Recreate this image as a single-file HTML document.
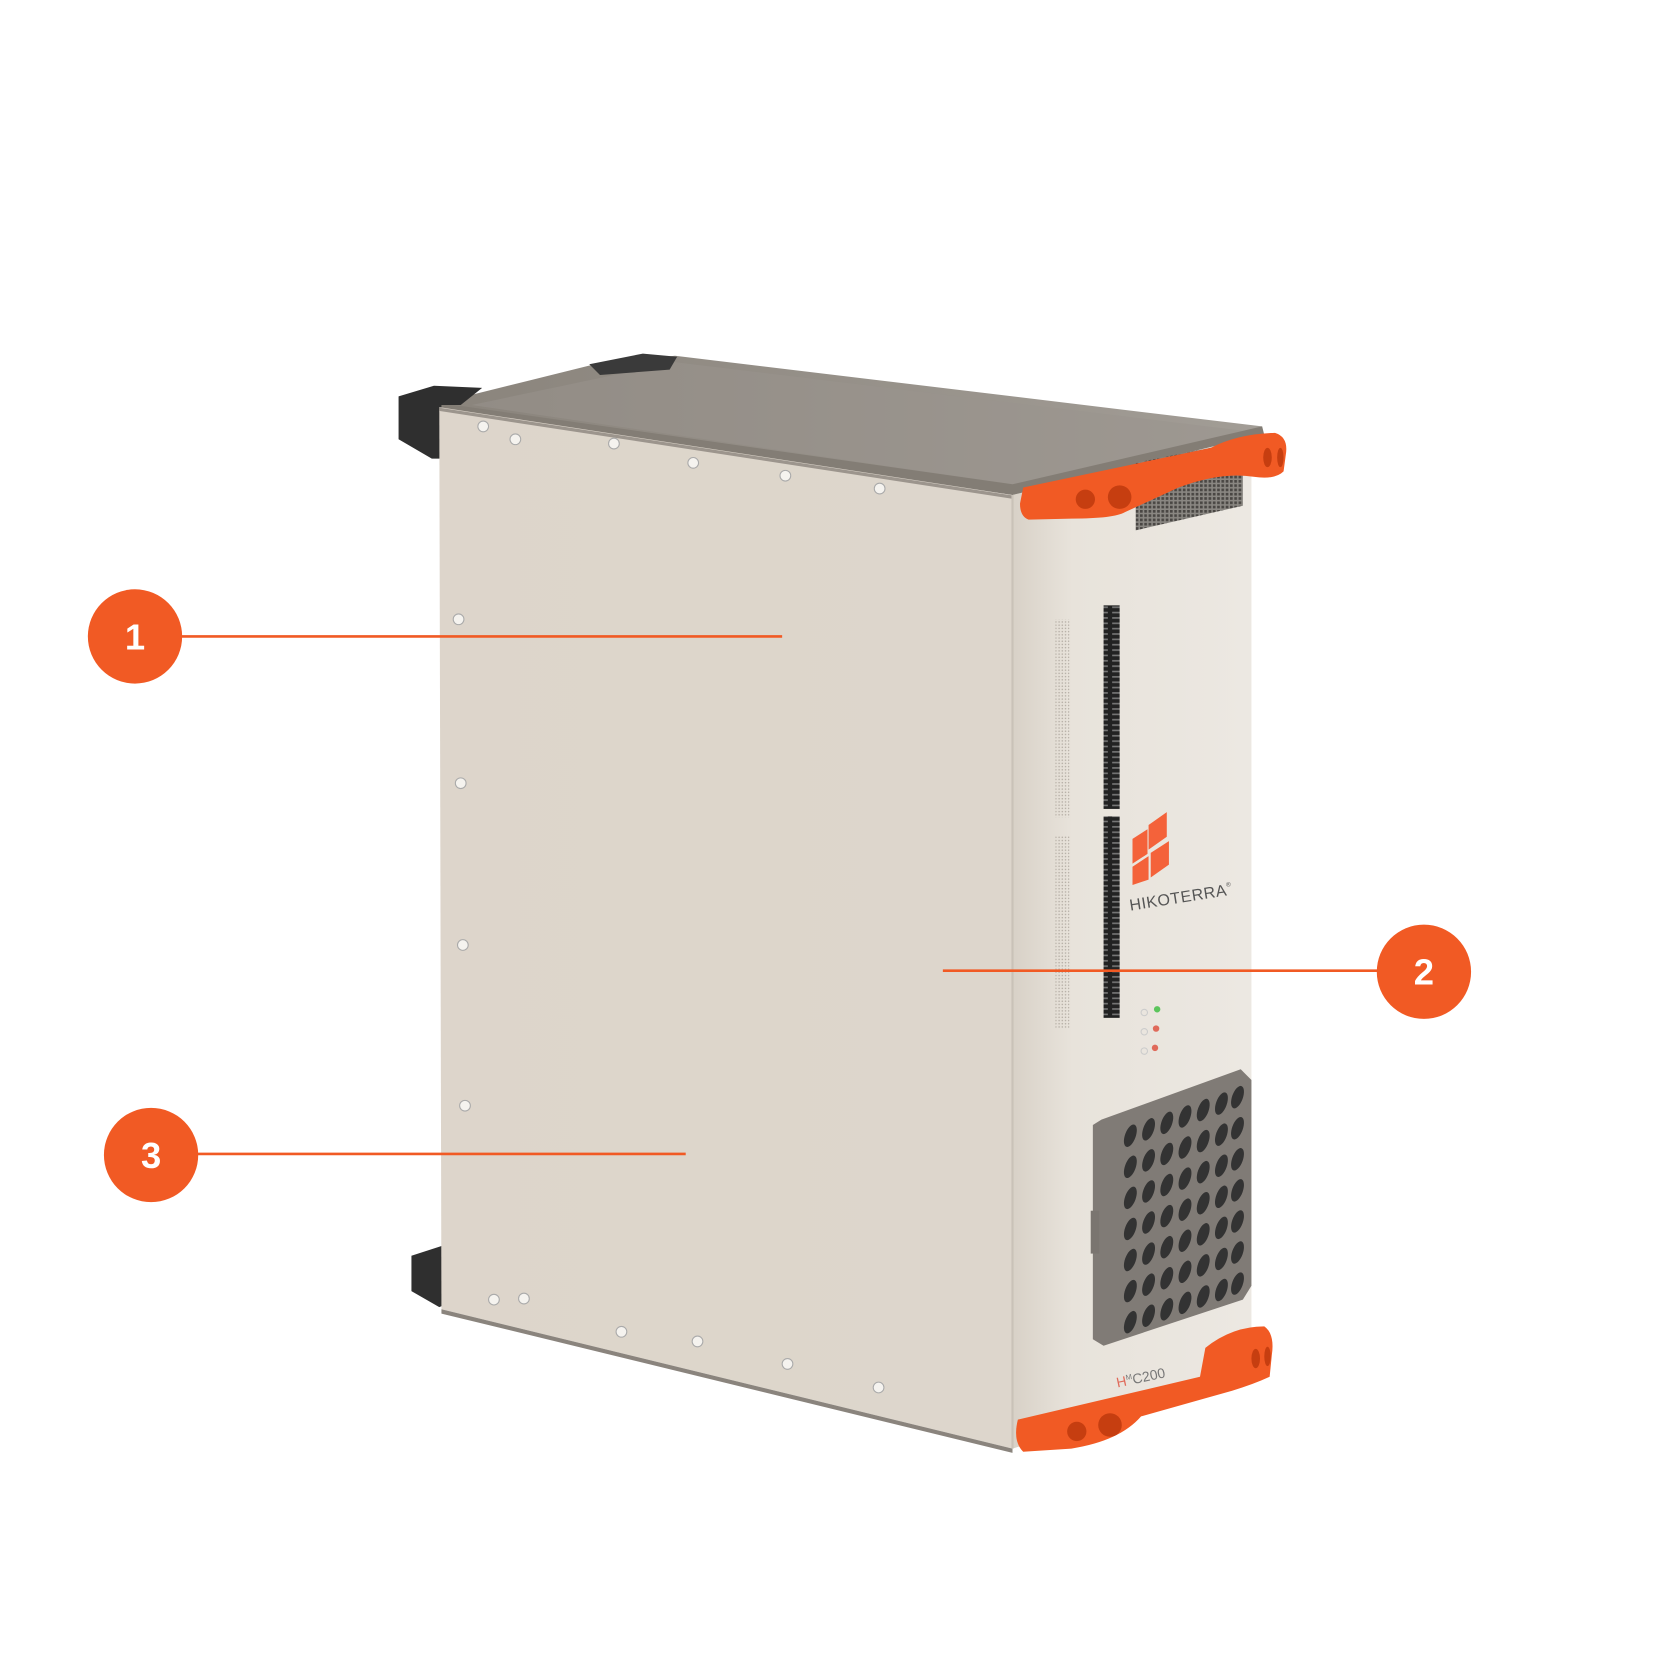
<!DOCTYPE html>
<html><head><meta charset="utf-8"><style>
html,body{margin:0;padding:0;background:#fff;width:1680px;height:1680px;overflow:hidden}
svg{display:block}
</style></head><body>
<svg width="1680" height="1680" viewBox="0 0 1568 1568" xmlns="http://www.w3.org/2000/svg">
<defs>
<linearGradient id="front" x1="0" y1="0" x2="1" y2="0">
<stop offset="0" stop-color="#ddd5cb"/><stop offset="0.5" stop-color="#ddd6cb"/><stop offset="1" stop-color="#ddd6cc"/>
</linearGradient>
<linearGradient id="side" x1="0" y1="0" x2="1" y2="0">
<stop offset="0" stop-color="#d8d1c7"/><stop offset="0.25" stop-color="#e8e3db"/><stop offset="1" stop-color="#ece8e2"/>
</linearGradient>
<linearGradient id="top" x1="0" y1="0" x2="1" y2="0">
<stop offset="0" stop-color="#8a847c"/><stop offset="1" stop-color="#a29d96"/>
</linearGradient>
<pattern id="mesh" width="4" height="4" patternUnits="userSpaceOnUse"><rect width="4" height="4" fill="#8a8782"/><rect width="2.5" height="2.5" fill="#4a4744"/></pattern>
<pattern id="slot" width="14" height="5" patternUnits="userSpaceOnUse"><rect width="14" height="5" fill="#222"/><rect x="2" y="1" width="10" height="1.5" fill="#777"/></pattern>
<pattern id="dots" width="3" height="3" patternUnits="userSpaceOnUse"><circle cx="1.5" cy="1.5" r="0.7" fill="#b5aea5"/></pattern>
</defs>

<polygon points="410,376 555,340 630,332 1178,398 1165,418 945,462 410,380" fill="url(#top)"/>
<polygon points="440,378 630,338 1160,402 945,452" fill="#9a948d" opacity="0.5"/>
<polygon points="410,376 945,452 1178,398 1180,406 945,462 410,384" fill="#837d75"/>
<polygon points="550,340 600,330 632,333 625,345 560,350" fill="#3a3a3a"/>
<polygon points="372,370 405,360 450,362 430,378 412,378 412,428 403,428 372,410" fill="#2f2f2f"/>
<polygon points="384,1172 415,1162 422,1215 410,1220 384,1205" fill="#2f2f2f"/>

<polygon points="410,380 945,462 945,1352 412,1222" fill="url(#front)"/>
<line x1="410" y1="382" x2="945" y2="464" stroke="#9c958d" stroke-width="3"/>
<polygon points="412,1222 945,1352 945,1356 412,1226" fill="#8a847d"/>

<polygon points="945,462 1168,408 1168,1245 1160,1290 945,1352" fill="url(#side)"/>
<line x1="945" y1="462" x2="945" y2="1352" stroke="#c9c2b8" stroke-width="2"/>
<polygon points="1060,432 1160,412 1160,472 1060,495" fill="url(#mesh)"/>

<path d="M955,455 L1130,418 Q1155,405 1190,404 Q1203,408 1200,425 L1198,440 Q1190,448 1170,445 Q1140,440 1100,455 L1050,478 Q1040,484 1000,484 L960,485 Q952,482 952,470 Z" fill="#f15a24"/>
<circle cx="1013" cy="466" r="9" fill="#c63e10"/><circle cx="1045" cy="464" r="11" fill="#c63e10"/>
<ellipse cx="1183" cy="427" rx="4" ry="9" fill="#c63e10"/><ellipse cx="1195" cy="427" rx="3" ry="9" fill="#c63e10"/>

<rect x="1030" y="565" width="15" height="190" fill="url(#slot)"/>
<rect x="1030" y="762" width="15" height="188" fill="url(#slot)"/>
<rect x="985" y="578" width="13" height="185" fill="url(#dots)"/>
<rect x="985" y="780" width="13" height="180" fill="url(#dots)"/>

<g fill="#f4623a">
<polygon points="1072,770 1089,758 1089,781 1072,793"/>
<polygon points="1057,783 1071,774 1071,797 1057,806"/>
<polygon points="1074,796 1091,785 1091,807 1074,819"/>
<polygon points="1057,809 1072,799 1072,821 1057,826"/>
</g>
<text x="1055" y="850" font-family="Liberation Sans, sans-serif" font-size="15" fill="#555" transform="rotate(-9 1055 850)" letter-spacing="0.5">HIKOTERRA<tspan font-size="6" dy="-8">®</tspan></text>
<circle cx="1080" cy="942" r="3" fill="#5cc55c"/><circle cx="1079" cy="960" r="3" fill="#e06a5a"/><circle cx="1078" cy="978" r="3" fill="#e06a5a"/>
<circle cx="1068" cy="945" r="3" fill="none" stroke="#ccc"/><circle cx="1068" cy="963" r="3" fill="none" stroke="#ccc"/><circle cx="1068" cy="981" r="3" fill="none" stroke="#ccc"/>

<polygon points="1028,1045 1158,998 1168,1008 1168,1200 1160,1213 1030,1256 1020,1250 1020,1050" fill="#807b76"/>
<rect x="1018" y="1130" width="8" height="40" fill="#7a7570"/>
<g fill="#333">
<g id="row">
<ellipse cx="1055" cy="1060" rx="5" ry="11" transform="rotate(20 1055 1060)"/>
<ellipse cx="1072" cy="1054" rx="5" ry="11" transform="rotate(20 1072 1054)"/>
<ellipse cx="1089" cy="1048" rx="5" ry="11" transform="rotate(20 1089 1048)"/>
<ellipse cx="1106" cy="1042" rx="5" ry="11" transform="rotate(20 1106 1042)"/>
<ellipse cx="1123" cy="1036" rx="5" ry="11" transform="rotate(20 1123 1036)"/>
<ellipse cx="1140" cy="1030" rx="5" ry="11" transform="rotate(20 1140 1030)"/>
<ellipse cx="1155" cy="1024" rx="5" ry="11" transform="rotate(20 1155 1024)"/>
</g>
<use href="#row" y="29"/><use href="#row" y="58"/><use href="#row" y="87"/><use href="#row" y="116"/><use href="#row" y="145"/><use href="#row" y="174"/>
</g>

<text x="1043" y="1295" font-family="Liberation Sans, sans-serif" font-size="13" fill="#777" transform="rotate(-12 1043 1295)"><tspan fill="#e06a5a">H</tspan><tspan font-size="7" dy="-5">M</tspan><tspan dy="5">C200</tspan></text>

<path d="M950,1325 L1120,1285 L1125,1258 Q1150,1238 1180,1238 Q1190,1245 1187,1265 L1185,1285 Q1170,1292 1150,1298 L1065,1322 Q1045,1345 1000,1352 L955,1355 Q945,1345 950,1325 Z" fill="#f15a24"/>
<circle cx="1005" cy="1336" r="9" fill="#c63e10"/><circle cx="1036" cy="1330" r="11" fill="#c63e10"/>
<ellipse cx="1172" cy="1268" rx="4" ry="9" fill="#c63e10"/><ellipse cx="1183" cy="1266" rx="3" ry="9" fill="#c63e10"/>

<g fill="#f5f3ef" stroke="#aaa" stroke-width="1">
<circle cx="451" cy="398" r="5"/><circle cx="481" cy="410" r="5"/><circle cx="573" cy="414" r="5"/><circle cx="647" cy="432" r="5"/><circle cx="733" cy="444" r="5"/><circle cx="821" cy="456" r="5"/>
<circle cx="428" cy="578" r="5"/><circle cx="430" cy="731" r="5"/><circle cx="432" cy="882" r="5"/><circle cx="434" cy="1032" r="5"/>
<circle cx="461" cy="1213" r="5"/><circle cx="489" cy="1212" r="5"/><circle cx="580" cy="1243" r="5"/><circle cx="651" cy="1252" r="5"/><circle cx="735" cy="1273" r="5"/><circle cx="820" cy="1295" r="5"/>
</g>

<g stroke="#f15a24" stroke-width="2.5">
<line x1="168" y1="594" x2="730" y2="594"/>
<line x1="880" y1="906" x2="1288" y2="906"/>
<line x1="183" y1="1077" x2="640" y2="1077"/>
</g>
<g fill="#f15a24">
<circle cx="126" cy="594" r="44"/><circle cx="1329" cy="907" r="44"/><circle cx="141" cy="1078" r="44"/>
</g>
<g fill="#fff" font-family="Liberation Sans, sans-serif" font-weight="bold" font-size="34" text-anchor="middle">
<text x="126" y="606">1</text><text x="1329" y="919">2</text><text x="141" y="1090">3</text>
</g>
</svg>
</body></html>
